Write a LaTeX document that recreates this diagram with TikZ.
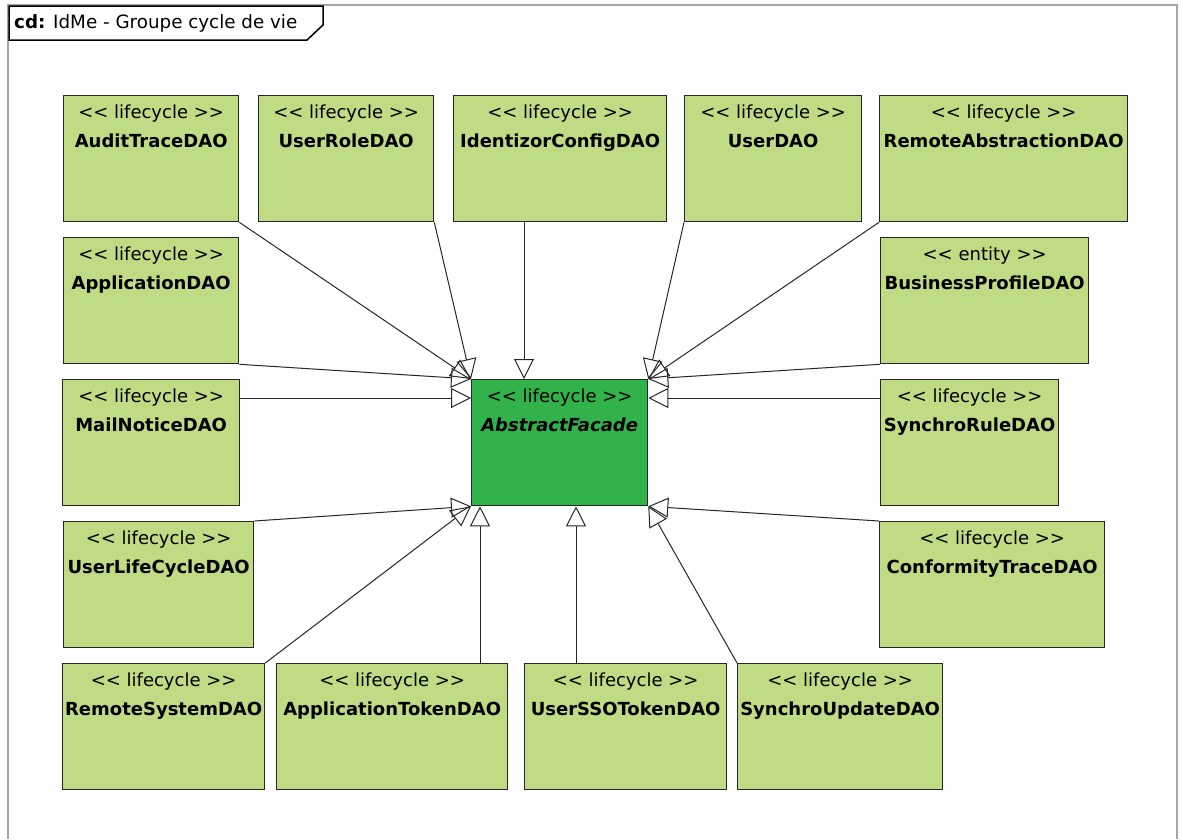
\documentclass[tikz,border=0pt]{standalone}
\usepackage{fontspec}
\setmainfont{DejaVu Sans}[Ligatures=TeXOff]
\usetikzlibrary{arrows.meta}

\definecolor{daogreen}{RGB}{191,219,132}
\definecolor{facadegreen}{RGB}{49,178,74}
\definecolor{framegray}{RGB}{165,165,165}

\begin{document}
\begin{tikzpicture}[
    x=1pt, y=-1pt,
    dao/.style={
        rectangle,
        draw=black!85,
        fill=daogreen,
        line width=1.3pt,
        anchor=north west,
        minimum height=126pt,
        inner xsep=2pt,
        inner ysep=0pt,
        text height=52pt,
        text depth=74pt,
        font=\fontsize{18}{20}\selectfont\bfseries
    },
    facadebox/.style={
        dao,
        fill=facadegreen,
        font=\fontsize{18}{20}\selectfont\bfseries\itshape
    },
    stereo/.style={
        anchor=base,
        yshift=-23pt,
        font=\fontsize{18}{20}\selectfont
    },
    arrow/.style={
        -{Triangle[open, length=20pt, width=20pt]},
        line width=1pt,
        black!85
    }
]
\useasboundingbox (0,0) rectangle (1183,839);

% --- Frame and title tab ---
\draw[framegray, line width=1.5pt] (8,839) -- (8,5) -- (1177,5) -- (1177,839);
\draw[black, line width=1.5pt, fill=white] (9,6) -- (323,6) -- (323,25) -- (307,40) -- (9,40) -- cycle;
\node[anchor=base west, inner sep=0pt, font=\fontsize{18.3}{20}\selectfont] (title) at (14,28) {\textbf{cd:} IdMe - Groupe cycle de vie};

% --- Top row ---
\node[dao, minimum width=175, label={[stereo]north:{<< lifecycle >>}}] (audit) at (63,95) {AuditTraceDAO};
\node[dao, minimum width=175, label={[stereo]north:{<< lifecycle >>}}] (userrole) at (258,95) {UserRoleDAO};
\node[dao, minimum width=213, label={[stereo]north:{<< lifecycle >>}}] (identizor) at (453,95) {IdentizorConfigDAO};
\node[dao, minimum width=177, label={[stereo]north:{<< lifecycle >>}}] (userdao) at (684,95) {UserDAO};
\node[dao, minimum width=248, label={[stereo]north:{<< lifecycle >>}}] (remoteabs) at (879,95) {RemoteAbstractionDAO};

% --- Left column ---
\node[dao, minimum width=175, label={[stereo]north:{<< lifecycle >>}}] (application) at (63,237) {ApplicationDAO};
\node[dao, minimum width=177, label={[stereo]north:{<< lifecycle >>}}] (mail) at (62,379) {MailNoticeDAO};
\node[dao, minimum width=190, label={[stereo]north:{<< lifecycle >>}}] (lifecycle) at (63,521) {UserLifeCycleDAO};

% --- Right column ---
\node[dao, minimum width=208, label={[stereo]north:{<< entity >>}}] (business) at (880,237) {BusinessProfileDAO};
\node[dao, minimum width=178, label={[stereo]north:{<< lifecycle >>}}] (synchrorule) at (880,379) {SynchroRuleDAO};
\node[dao, minimum width=225, label={[stereo]north:{<< lifecycle >>}}] (conformity) at (879,521) {ConformityTraceDAO};

% --- Bottom row ---
\node[dao, minimum width=202, label={[stereo]north:{<< lifecycle >>}}] (remotesys) at (62,663) {RemoteSystemDAO};
\node[dao, minimum width=231, label={[stereo]north:{<< lifecycle >>}}] (apptoken) at (276,663) {ApplicationTokenDAO};
\node[dao, minimum width=202, label={[stereo]north:{<< lifecycle >>}}] (usersso) at (524,663) {UserSSOTokenDAO};
\node[dao, minimum width=205, label={[stereo]north:{<< lifecycle >>}}] (synchroupdate) at (737,663) {SynchroUpdateDAO};

% --- Facade ---
\node[facadebox, minimum width=176, label={[stereo]north:{<< lifecycle >>}}] (facade) at (471,379) {AbstractFacade};

% --- Generalizations ---
\coordinate (topin) at ([xshift=53pt]facade.north west);
\coordinate (botleft) at ([xshift=9pt]facade.south west);
\coordinate (botmid) at ([xshift=105pt]facade.south west);

\draw[arrow] (audit.south east) -- (facade.north west);
\draw[arrow] (userrole.south east) -- (facade.north west);
\draw[arrow] (identizor.south -| topin) -- (topin);
\draw[arrow] (userdao.south west) -- (facade.north east);
\draw[arrow] (remoteabs.south west) -- (facade.north east);
\draw[arrow] (application.south east) -- (facade.north west);
\draw[arrow] (business.south west) -- (facade.north east);
\draw[arrow] ([yshift=-19pt]mail.north east) -- ([yshift=-19pt]facade.north west);
\draw[arrow] ([yshift=-19pt]synchrorule.north west) -- ([yshift=-19pt]facade.north east);
\draw[arrow] (lifecycle.north east) -- (facade.south west);
\draw[arrow] (remotesys.north east) -- (facade.south west);
\draw[arrow] (apptoken.north -| botleft) -- (botleft);
\draw[arrow] (usersso.north -| botmid) -- (botmid);
\draw[arrow] (synchroupdate.north west) -- (facade.south east);
\draw[arrow] (conformity.north west) -- (facade.south east);

\end{tikzpicture}
\end{document}
